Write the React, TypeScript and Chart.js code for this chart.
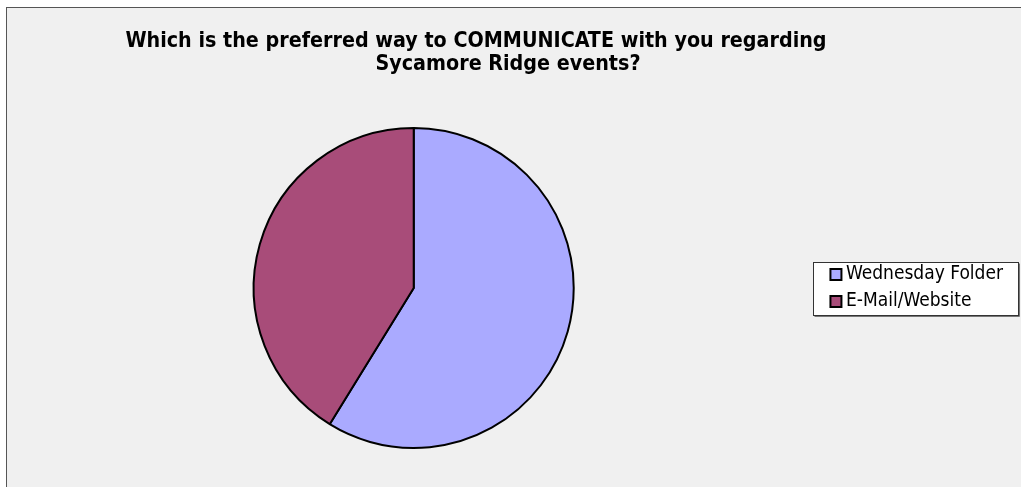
import { useEffect, useRef } from "react";
import { Chart, registerables } from "chart.js";

Chart.register(...registerables);

const TITLE_LINES = [
  "Which is the preferred way to COMMUNICATE with you regarding",
  "Sycamore Ridge events?",
];
const CATEGORIES = ["Wednesday Folder", "E-Mail/Website"];
const VALUES = [58.8, 41.2];
const COLORS = ["#aaaaff", "#a84c79"];

const W = 1021;
const H = 487;

export default function App() {
  const ref = useRef<HTMLCanvasElement | null>(null);

  useEffect(() => {
    const canvas = ref.current;
    if (!canvas) return;

    const backdrop = {
      id: "backdrop",
      beforeDraw(chart: any) {
        const ctx = chart.ctx;
        ctx.save();
        ctx.fillStyle = "#ffffff";
        ctx.fillRect(0, 0, W, H);
        ctx.fillStyle = "#f0f0f0";
        ctx.fillRect(6, 7, W, H);
        ctx.strokeStyle = "#555555";
        ctx.lineWidth = 1;
        ctx.strokeRect(6.5, 7.5, W + 20, H + 20);

        // legend frame
        const lg = chart.legend;
        if (lg && lg.legendHitBoxes && lg.legendHitBoxes.length) {
          const hb = lg.legendHitBoxes;
          let l = Infinity, r = -Infinity;
          for (const h of hb) {
            l = Math.min(l, h.left);
            r = Math.max(r, h.left + h.width);
          }
          const t = hb[0].top - 3;
          const last = hb[hb.length - 1];
          const b = last.top + last.height + 5;
          const bl = Math.round(l - 22) + 0.5;
          const br = Math.round(r + 16) - 0.5;
          const bt = Math.round(t) + 0.5;
          const bb = Math.round(b) - 0.5;
          ctx.fillStyle = "#ffffff";
          ctx.fillRect(bl, bt, br - bl, bb - bt);
          ctx.strokeStyle = "#333333";
          ctx.lineWidth = 1;
          ctx.strokeRect(bl, bt, br - bl, bb - bt);
          ctx.strokeStyle = "#777777";
          ctx.beginPath();
          ctx.moveTo(bl + 1, bb + 1);
          ctx.lineTo(br + 1, bb + 1);
          ctx.lineTo(br + 1, bt + 1);
          ctx.stroke();
        }

        // title
        ctx.fillStyle = "#000000";
        ctx.textAlign = "center";
        ctx.textBaseline = "alphabetic";
        ctx.font = "bold 21.3px 'DejaVu Sans Condensed', 'DejaVu Sans', sans-serif";
        ctx.fillText(TITLE_LINES[0], 476, 47);
        ctx.fillText(TITLE_LINES[1], 508, 70);
        ctx.restore();
      },
    };

    const chart = new Chart(canvas, {
      type: "pie",
      data: {
        labels: CATEGORIES,
        datasets: [
          {
            data: VALUES,
            backgroundColor: COLORS,
            borderColor: "#000000",
            borderWidth: 2,
            hoverOffset: 0,
            offset: 0,
          },
        ],
      },
      options: {
        responsive: false,
        animation: false,
        devicePixelRatio: 1,
        events: [],
        layout: {
          padding: { top: 127, bottom: 38, left: 0, right: 8 },
        },
        plugins: {
          title: { display: false },
          tooltip: { enabled: false },
          legend: {
            display: true,
            position: "right",
            align: "center",
            labels: {
              usePointStyle: true,
              pointStyle: "rect",
              boxWidth: 1,
              boxHeight: 11,
              padding: 8,
              color: "#000000",
              font: {
                family: "'DejaVu Sans Condensed', 'DejaVu Sans', sans-serif",
                size: 19,
              },
            },
          },
        },
      },
      plugins: [backdrop],
    });

    return () => chart.destroy();
  }, []);

  return (
    <div
      style={{
        position: "absolute",
        left: 0,
        top: 0,
        width: W,
        height: H,
        background: "#ffffff",
      }}
    >
      <canvas ref={ref} width={W} height={H} style={{ display: "block", width: W, height: H }} />
    </div>
  );
}
